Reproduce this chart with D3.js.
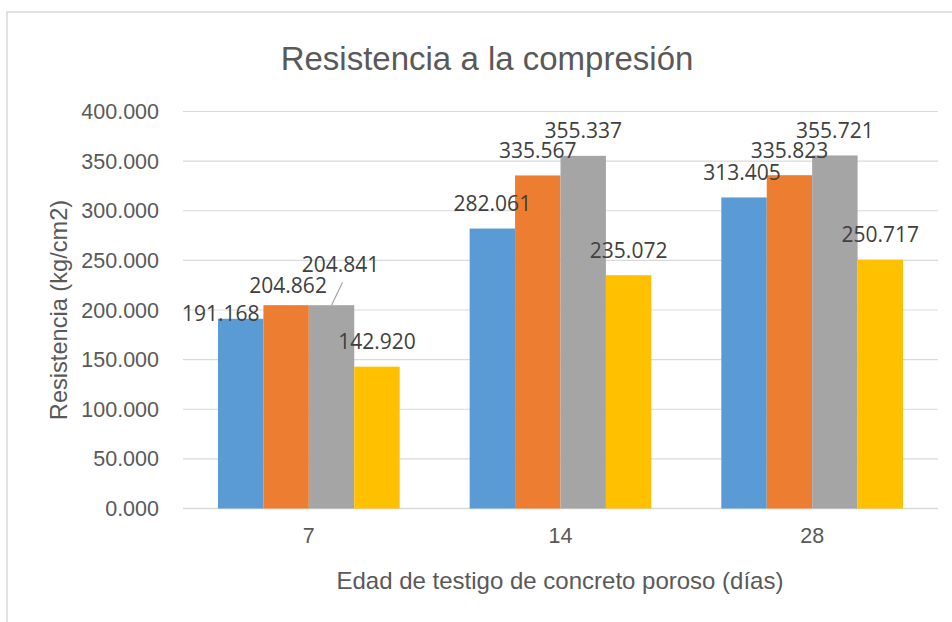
<!DOCTYPE html>
<html>
<head>
<meta charset="utf-8">
<script src="https://cdn.jsdelivr.net/npm/d3@7"></script>
<style>
  body { margin: 0; background: #fff; }
  svg { display: block; }
</style>
</head>
<body>
<svg id="chart" width="952" height="622"></svg>
<script>
// edad de los testigos (dias)
const categories = ["7", "14", "28"];
// cuatro series de resistencia (kg/cm2), una por barra en cada grupo
const serie1 = [191.168, 282.061, 313.405];
const serie2 = [204.862, 335.567, 335.823];
const serie3 = [204.841, 355.337, 355.721];
const serie4 = [142.920, 235.072, 250.717];
const yTicks = [0, 50, 100, 150, 200, 250, 300, 350, 400];

const colors = ["#5B9BD5", "#ED7D31", "#A5A5A5", "#FFC000"];
// etiquetas movidas a mano en el original (dx, dy respecto a la posicion normal)
const labelNudge = { "0-0": [-20, 20], "0-1": [2, 5], "0-2": [9, -15.5], "2-0": [-2, 0] };

const svg = d3.select("#chart");
const fmt = d3.format(".3f");
const axisFont = "'Liberation Sans', Arial, sans-serif";
const labelFont = "'Open Sans', 'Liberation Sans', sans-serif";

// marco del grafico (cortado a la derecha y abajo)
svg.append("rect")
  .attr("x", 7).attr("y", 12)
  .attr("width", 960).attr("height", 640)
  .attr("fill", "none")
  .attr("stroke", "#d9d9d9")
  .attr("stroke-width", 1.5);

const x = d3.scaleBand()
  .domain(categories)
  .range([183, 938])
  .paddingInner(0.278)
  .paddingOuter(0.139);

const y = d3.scaleLinear()
  .domain([0, 400])
  .range([508.5, 111.5]);

const all = [serie1, serie2, serie3, serie4];
const xs = d3.scaleBand()
  .domain(d3.range(all.length))
  .range([0, x.bandwidth()]);

// lineas de division
svg.append("g")
  .selectAll("line")
  .data(yTicks)
  .enter()
  .append("line")
  .attr("x1", 183).attr("x2", 938)
  .attr("y1", d => y(d)).attr("y2", d => y(d))
  .attr("stroke", "#d9d9d9")
  .attr("stroke-width", d => d === 0 ? 1.6 : 1.2);

// etiquetas eje y
svg.append("g")
  .selectAll("text")
  .data(yTicks)
  .enter()
  .append("text")
  .attr("x", 159)
  .attr("y", d => y(d))
  .attr("dy", "0.35em")
  .attr("text-anchor", "end")
  .attr("font-family", axisFont)
  .attr("font-size", 21.5)
  .attr("fill", "#595959")
  .text(d => fmt(d));

// barras
const bars = [];
categories.forEach((c, ci) => {
  all.forEach((s, si) => {
    bars.push({ cat: c, ci: ci, si: si, v: s[ci] });
  });
});

svg.append("g")
  .selectAll("rect")
  .data(bars)
  .enter()
  .append("rect")
  .attr("x", d => x(d.cat) + xs(d.si))
  .attr("y", d => y(d.v))
  .attr("width", xs.bandwidth())
  .attr("height", d => y(0) - y(d.v))
  .attr("fill", d => colors[d.si]);

// linea guia de la etiqueta movida
const lead = bars.filter(d => d.ci === 0 && d.si === 2);
svg.append("g")
  .selectAll("line")
  .data(lead)
  .enter()
  .append("line")
  .attr("x1", d => x(d.cat) + xs(d.si) + xs.bandwidth() / 2)
  .attr("y1", d => y(d.v))
  .attr("x2", d => x(d.cat) + xs(d.si) + xs.bandwidth() / 2 + 11)
  .attr("y2", d => y(d.v) - 23)
  .attr("stroke", "#a6a6a6")
  .attr("stroke-width", 1.2);

// etiquetas de datos
svg.append("g")
  .selectAll("text")
  .data(bars)
  .enter()
  .append("text")
  .attr("x", d => {
    const n = labelNudge[d.ci + "-" + d.si] || [0, 0];
    return x(d.cat) + xs(d.si) + xs.bandwidth() / 2 + n[0];
  })
  .attr("y", d => {
    const n = labelNudge[d.ci + "-" + d.si] || [0, 0];
    return y(d.v) - 25 + n[1];
  })
  .attr("dy", "0.35em")
  .attr("text-anchor", "middle")
  .attr("font-family", labelFont)
  .attr("font-size", 21)
  .attr("fill", "#404040")
  .text(d => fmt(d.v));

// categorias
svg.append("g")
  .selectAll("text")
  .data(categories)
  .enter()
  .append("text")
  .attr("x", d => x(d) + x.bandwidth() / 2)
  .attr("y", 535)
  .attr("dy", "0.35em")
  .attr("text-anchor", "middle")
  .attr("font-family", axisFont)
  .attr("font-size", 21.5)
  .attr("fill", "#595959")
  .text(d => d);

// titulos
svg.append("text")
  .attr("x", 487).attr("y", 58)
  .attr("dy", "0.35em")
  .attr("text-anchor", "middle")
  .attr("font-family", axisFont)
  .attr("font-size", 33)
  .attr("fill", "#595959")
  .text("Resistencia a la compresión");

svg.append("text")
  .attr("x", 560).attr("y", 581)
  .attr("dy", "0.35em")
  .attr("text-anchor", "middle")
  .attr("font-family", axisFont)
  .attr("font-size", 24)
  .attr("fill", "#595959")
  .text("Edad de testigo de concreto poroso (días)");

svg.append("text")
  .attr("transform", "translate(59,310) rotate(-90)")
  .attr("dy", "0.35em")
  .attr("text-anchor", "middle")
  .attr("font-family", axisFont)
  .attr("font-size", 23.6)
  .attr("fill", "#595959")
  .text("Resistencia (kg/cm2)");
</script>
</body>
</html>
